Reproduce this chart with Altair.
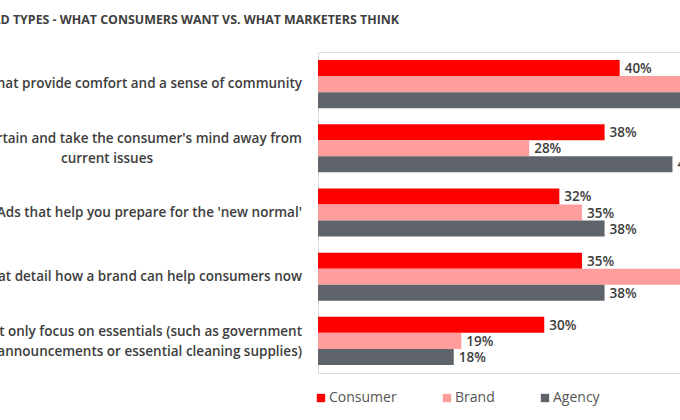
import altair as alt
import pandas as pd

categories = [
    "Ads that provide comfort and a sense of community",
    "Ads that entertain and take the consumer's mind away from current issues",
    "Ads that help you prepare for the 'new normal'",
    "Ads that detail how a brand can help consumers now",
    "Ads that only focus on essentials (such as government announcements or essential cleaning supplies)",
]
line1 = [
    "Ads that provide comfort and a sense of community",
    "Ads that entertain and take the consumer's mind away from",
    "Ads that help you prepare for the 'new normal'",
    "Ads that detail how a brand can help consumers now",
    "Ads that only focus on essentials (such as government",
]
line2 = ["", "current issues", "", "", "announcements or essential cleaning supplies)"]

series = ["Consumer", "Brand", "Agency"]
consumer = [40, 38, 32, 35, 30]
brand = [51, 28, 35, 49, 19]
agency = [52, 47, 38, 38, 18]
colors = ["#FF0000", "#FF9C9C", "#5F646A"]

rows = []
for i, c in enumerate(categories):
    for s, vals in zip(series, [consumer, brand, agency]):
        rows.append({"category": c, "series": s, "value": vals[i], "label": f"{vals[i]}%"})
df = pd.DataFrame(rows)

lab = pd.DataFrame({
    "category": categories,
    "line1": line1,
    "line2": line2,
    "nlines": [2 if l else 1 for l in line2],
    "idx": list(range(len(categories))),
})

FONT = "Open Sans"
TXT = "#3d3d3d"

y_enc = alt.Y("category:N", sort=categories, axis=None,
              scale=alt.Scale(paddingInner=0.25, paddingOuter=0.125))
x_scale = alt.Scale(domain=[0, 48], nice=False, zero=True)

base = alt.Chart(df)

bars = base.mark_bar(size=16).encode(
    y=y_enc,
    yOffset=alt.YOffset("series:N", sort=series, scale=alt.Scale(paddingInner=0, paddingOuter=0)),
    x=alt.X("value:Q", scale=x_scale, axis=None),
    color=alt.Color(
        "series:N", sort=series,
        scale=alt.Scale(domain=series, range=colors),
        legend=alt.Legend(
            title=None, orient="none", legendX=-4, legendY=339, direction="horizontal",
            columns=3, columnPadding=43, symbolType="square", symbolSize=70,
            symbolStrokeWidth=0, labelOffset=1,
            labelFont=FONT, labelFontSize=14, labelColor="#555555",
        ),
    ),
)

values = base.mark_text(align="left", baseline="middle", dx=5, dy=1,
                        font=FONT, fontSize=13.5, fontWeight=600, color=TXT).encode(
    y=y_enc,
    yOffset=alt.YOffset("series:N", sort=series, scale=alt.Scale(paddingInner=0, paddingOuter=0)),
    x=alt.X("value:Q", scale=x_scale),
    text="label:N",
)

labbase = alt.Chart(lab)
lab_kw = dict(baseline="middle", font=FONT, fontSize=13.5, fontWeight=600, color=TXT)

single = labbase.transform_filter("datum.nlines == 1").mark_text(align="right", **lab_kw).encode(
    y=y_enc, x=alt.value(-16), text="line1:N")
first = labbase.transform_filter("datum.nlines == 2").mark_text(align="right", dy=-9, **lab_kw).encode(
    y=y_enc, x=alt.value(-16), text="line1:N")
second_c = labbase.transform_filter("datum.idx == 1").mark_text(align="center", dy=11, **lab_kw).encode(
    y=y_enc, x=alt.value(-211), text="line2:N")
second_r = labbase.transform_filter("datum.idx == 4").mark_text(align="right", dy=11, **lab_kw).encode(
    y=y_enc, x=alt.value(-16), text="line2:N")

chart = alt.layer(bars, values, single, first, second_c, second_r).properties(
    width=362,
    height=321,
    title=alt.TitleParams(
        "AD TYPES - WHAT CONSUMERS WANT VS. WHAT MARKETERS THINK",
        anchor="start", frame="group", dx=-326, offset=26,
        font=FONT, fontSize=12.4, fontWeight="bold", color="#404040",
    ),
    autosize=alt.AutoSizeParams(type="none"),
    padding={"left": 318, "top": 52, "right": 0, "bottom": 47},
).configure_view(stroke=None).configure(background="white")

chart.save("out.html", embed_options={"renderer": "svg", "actions": False})
